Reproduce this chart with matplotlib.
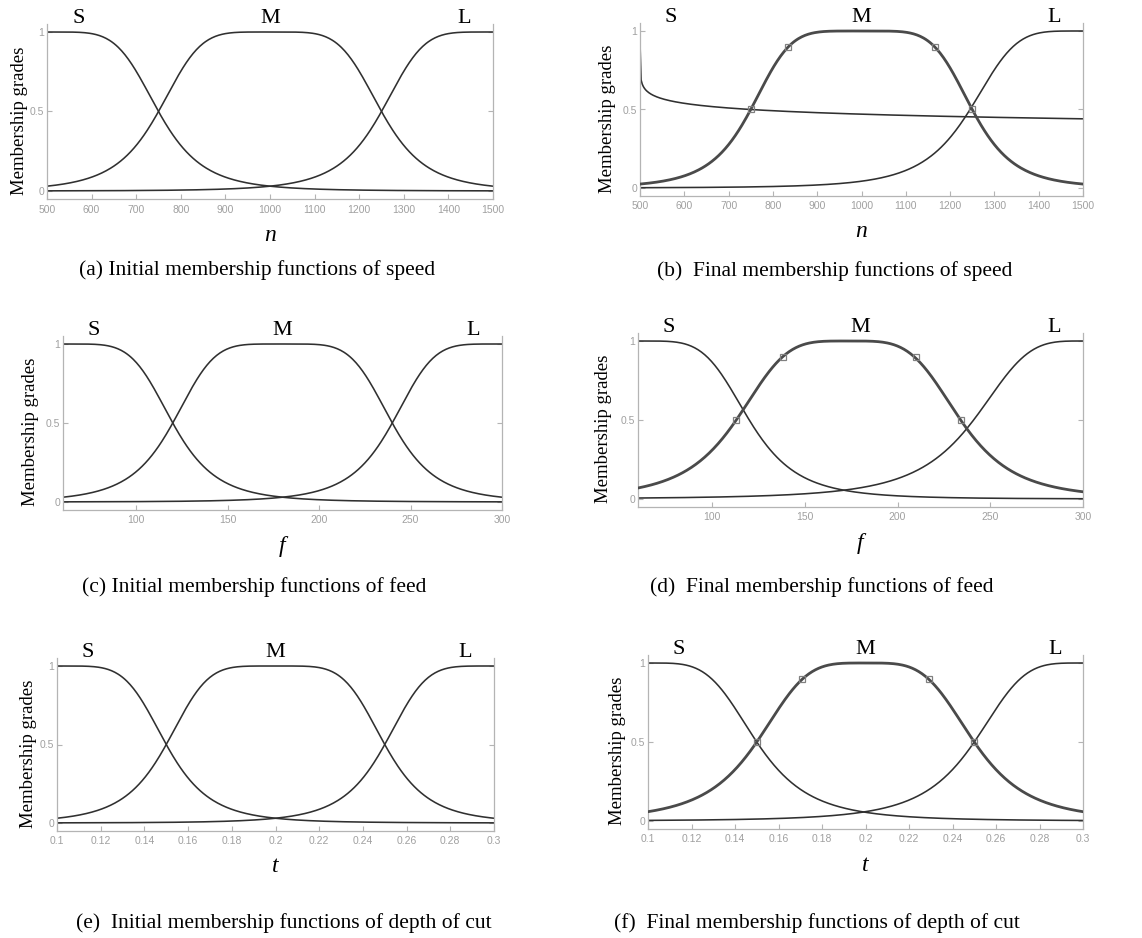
import numpy as np
import matplotlib
matplotlib.use("Agg")
import matplotlib.pyplot as plt

# membership function labels
mf_names = ["S", "M", "L"]

# generalized bell parameters (width a, slope b, centre c)
speed_range = [500, 1500]
speed_ticks = [500, 600, 700, 800, 900, 1000, 1100, 1200, 1300, 1400, 1500]
speed_init_a = [250, 250, 250]
speed_init_b = [2.5, 2.5, 2.5]
speed_init_c = [500, 1000, 1500]
speed_final_a = [250, 250, 255]
speed_final_b = [0.086, 2.64, 2.3]
speed_final_c = [499.9999, 1000, 1500]
speed_marks_x = [750, 835, 1165, 1250]

feed_range = [60, 300]
feed_ticks = [100, 150, 200, 250, 300]
feed_init_a = [60, 60, 60]
feed_init_b = [2.5, 2.5, 2.5]
feed_init_c = [60, 180, 300]
feed_final_a = [60, 60.5, 59]
feed_final_b = [2.3, 2.06, 1.81]
feed_final_c = [60, 173.5, 300]
feed_marks_x = [113, 138, 210, 234]

depth_range = [0.1, 0.3]
depth_ticks = [0.1, 0.12, 0.14, 0.16, 0.18, 0.2, 0.22, 0.24, 0.26, 0.28, 0.3]
depth_init_a = [0.05, 0.05, 0.05]
depth_init_b = [2.5, 2.5, 2.5]
depth_init_c = [0.1, 0.2, 0.3]
depth_final_a = [0.05, 0.05, 0.05]
depth_final_b = [2.05, 2.0, 2.0]
depth_final_c = [0.1, 0.2, 0.3]
depth_marks_x = [0.15, 0.171, 0.229, 0.25]

marks_y = [0.5, 0.9, 0.9, 0.5]

captions = ["(a) Initial membership functions of speed",
            "(b)  Final membership functions of speed",
            "(c) Initial membership functions of feed",
            "(d)  Final membership functions of feed",
            "(e)  Initial membership functions of depth of cut",
            "(f)  Final membership functions of depth of cut"]
xlabels = ["n", "n", "f", "f", "t", "t"]


def gbell(x, a, b, c):
    return 1.0 / (1.0 + np.abs((x - c) / a) ** (2 * b))


W, H = 1142, 938
fig = plt.figure(figsize=(W / 100, H / 100), dpi=100)
fig.patch.set_facecolor("white")

serif = ["Liberation Serif", "DejaVu Serif"]
grey = "#b4b4b4"

# panel layout in pixels: left, right, y of 1, y of 0
boxes = [(47, 493, 32, 191), (640, 1083, 31, 188),
         (63, 502, 344, 502), (638, 1083, 341, 499),
         (57, 494, 666, 823), (648, 1083, 663, 821)]
cap_pos = [(257, 270), (835, 271), (254, 587), (822, 587), (284, 923), (817, 923)]
ylab_right = [28, 616, 39, 612, 37, 626]

panels = [
    (speed_range, speed_ticks, speed_init_a, speed_init_b, speed_init_c, None),
    (speed_range, speed_ticks, speed_final_a, speed_final_b, speed_final_c, speed_marks_x),
    (feed_range, feed_ticks, feed_init_a, feed_init_b, feed_init_c, None),
    (feed_range, feed_ticks, feed_final_a, feed_final_b, feed_final_c, feed_marks_x),
    (depth_range, depth_ticks, depth_init_a, depth_init_b, depth_init_c, None),
    (depth_range, depth_ticks, depth_final_a, depth_final_b, depth_final_c, depth_marks_x),
]

for i, (rng, ticks, A, B, C, marks) in enumerate(panels):
    L, R, Y1, Y0 = boxes[i]
    unit = Y0 - Y1
    top = Y1 - 0.05 * unit
    bot = Y0 + 0.05 * unit
    ax = fig.add_axes([L / W, 1 - bot / H, (R - L) / W, (bot - top) / H])

    x = np.linspace(rng[0], rng[1], 401)
    for k in range(3):
        y = gbell(x, A[k], B[k], C[k])
        if marks is not None and k == 1:
            ax.plot(x, y, color="#4a4a4a", lw=2.0, zorder=3)
        else:
            ax.plot(x, y, color="#303030", lw=1.15, zorder=2)
    if marks is not None:
        ax.plot(marks, marks_y, ls="none", marker="s", ms=4.5, mfc="none",
                mec="#808080", mew=0.9, zorder=4)

    ax.set_xlim(rng)
    ax.set_ylim(-0.05, 1.05)
    ax.set_xticks(ticks)
    ax.set_xticklabels([f"{t:g}" for t in ticks])
    ax.set_yticks([0, 0.5, 1])
    ax.set_yticklabels(["0", "0.5", "1"])
    ax.spines["top"].set_visible(False)
    for s in ["left", "right", "bottom"]:
        ax.spines[s].set_color(grey)
        ax.spines[s].set_linewidth(0.9)
    ax.tick_params(axis="both", direction="in", length=3.5, color=grey,
                   labelcolor="#a0a0a0", labelsize=7.5, width=0.8)
    ax.tick_params(axis="x", pad=4)
    ax.tick_params(axis="y", right=True, pad=2)
    for lab in ax.get_xticklabels() + ax.get_yticklabels():
        lab.set_family(["Liberation Sans", "DejaVu Sans"])

    ax.set_ylabel("Membership grades", family=serif, fontsize=13.5)
    ax.yaxis.set_label_coords((ylab_right[i] - L) / (R - L),
                              0.5 - 9 / (bot - top))

    span = rng[1] - rng[0]
    for k, frac in enumerate([0.07, 0.5, 0.935]):
        ax.text(rng[0] + frac * span, 1.025, mf_names[k], family=serif,
                fontsize=16, ha="center", va="bottom")

    ax.annotate(xlabels[i], xy=(0.5, 0), xycoords="axes fraction",
                xytext=(0, -26), textcoords="offset points",
                ha="center", va="center", family=serif, style="italic",
                fontsize=17)

    cx, cy = cap_pos[i]
    fig.text(cx / W, 1 - cy / H, captions[i], family=serif, fontsize=15.5,
             ha="center", va="center")

fig.savefig("out.png", dpi=100)
